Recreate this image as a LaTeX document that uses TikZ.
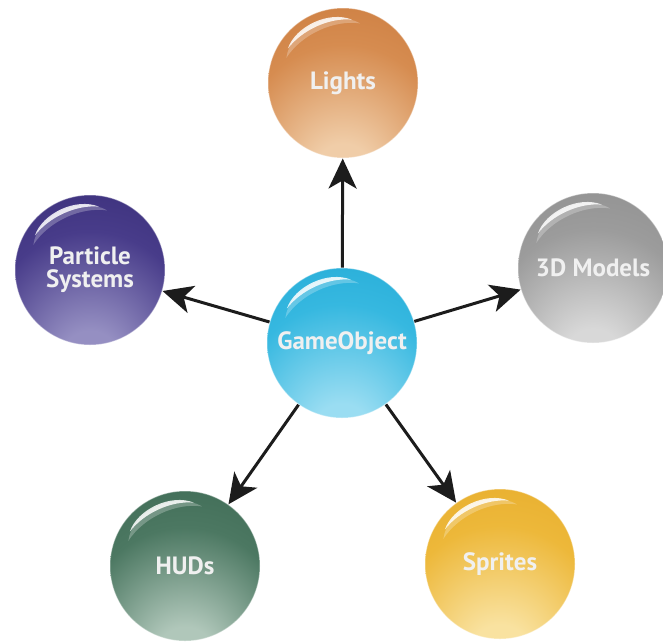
\documentclass[tikz,border=0pt]{standalone}
\usepackage{fontspec}
\setmainfont{PT Sans}
\usetikzlibrary{arrows.meta}

% Glossy sphere: pale glow at the bottom, full colour in the middle, deep at the top
\pgfdeclareradialshading[glasslight,glassmid,glassdark]{glassy}{\pgfpoint{0bp}{-34bp}}{%
  color(0bp)=(glasslight); color(10bp)=(glasslight); color(34bp)=(glassmid);
  color(68bp)=(glassdark); color(90bp)=(glassdark)}

\definecolor{goL}{HTML}{9ADDF2}\definecolor{goM}{HTML}{36B8E0}\definecolor{goD}{HTML}{129DCC}
\definecolor{liL}{HTML}{F0CDA8}\definecolor{liM}{HTML}{D68C50}\definecolor{liD}{HTML}{BF6A2C}
\definecolor{paL}{HTML}{958FC2}\definecolor{paM}{HTML}{483C8A}\definecolor{paD}{HTML}{2A1F66}
\definecolor{moL}{HTML}{D8D8D8}\definecolor{moM}{HTML}{9C9C9C}\definecolor{moD}{HTML}{808080}
\definecolor{huL}{HTML}{B0C7BA}\definecolor{huM}{HTML}{4C7862}\definecolor{huD}{HTML}{2D5A44}
\definecolor{spL}{HTML}{F9E2A0}\definecolor{spM}{HTML}{EDB83A}\definecolor{spD}{HTML}{E0A01C}
\definecolor{arrowink}{HTML}{1C1C1C}

\tikzset{
  ball/.style n args={3}{circle, minimum size=150pt, inner sep=0pt,
    /utils/exec={\colorlet{glasslight}{#1}\colorlet{glassmid}{#2}\colorlet{glassdark}{#3}},
    shading=glassy, draw=white, draw opacity=0.4, line width=1pt,
    text=white!94!black, font=\bfseries\fontsize{25}{25}\selectfont, align=center},
  link/.style={line width=3pt, draw=arrowink,
    -{Stealth[length=30pt, width=28pt, inset=8pt]}}
}

% Thin shine along the upper left rim of a ball: soft halo and bright lens
\newcommand\glassshine[1]{%
  \fill[white, opacity=0.25]
    ([shift={(156:62pt)}]#1.center)
      .. controls ([shift={(134:76pt)}]#1.center) and ([shift={(98:76pt)}]#1.center)
      .. ([shift={(74:62pt)}]#1.center)
      .. controls ([shift={(98:64pt)}]#1.center) and ([shift={(130:64pt)}]#1.center)
      .. ([shift={(156:62pt)}]#1.center) -- cycle;
  \fill[white, opacity=0.85]
    ([shift={(148:65pt)}]#1.center)
      .. controls ([shift={(130:74pt)}]#1.center) and ([shift={(101:74pt)}]#1.center)
      .. ([shift={(82:64pt)}]#1.center)
      .. controls ([shift={(102:67pt)}]#1.center) and ([shift={(128:67pt)}]#1.center)
      .. ([shift={(148:65pt)}]#1.center) -- cycle;
}

\begin{document}
\begin{tikzpicture}[x=1pt, y=-1pt]
  \useasboundingbox (0,0) rectangle (663,641);

  \node[ball={goL}{goM}{goD}] (go)       at (342,343) {GameObject};
  \node[ball={liL}{liM}{liD}] (lights)   at (343,83)  {Lights};
  \node[ball={paL}{paM}{paD}] (particle) at (90,270)  {Particle\\[-2pt]Systems};
  \node[ball={moL}{moM}{moD}] (models)   at (593,268) {3D Models};
  \node[ball={huL}{huM}{huD}] (huds)     at (185,566) {HUDs};
  \node[ball={spL}{spM}{spD}] (sprites)  at (500,564) {Sprites};

  \foreach \b in {go,lights,particle,models,huds,sprites}{\glassshine{\b}}

  \draw[link] (go) -- (lights);
  \draw[link] (go) -- (particle);
  \draw[link] (go) -- (models);
  \draw[link] (go) -- (huds);
  \draw[link] (go) -- (sprites);
\end{tikzpicture}
\end{document}
